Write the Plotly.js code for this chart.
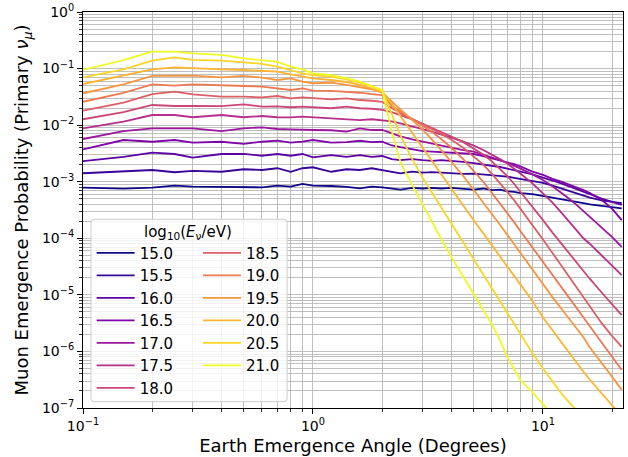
<!DOCTYPE html>
<html>
<head>
<meta charset="utf-8">
<script src="https://cdn.plot.ly/plotly-3.0.1.min.js"></script>
<style>html,body{margin:0;padding:0;background:#fff;}#chart{width:628px;height:457px;}</style>
</head>
<body>
<div id="chart"></div>
<script>
// Earth emergence angle (degrees)
const angles = [0.1, 0.15, 0.2, 0.25, 0.3, 0.4, 0.5, 0.6, 0.7, 0.8, 0.9, 1.0, 1.2, 1.4, 1.6, 1.8, 2.0,
  2.2, 2.4, 2.7, 3.0, 3.3, 3.6, 4.0, 4.5, 5.0, 5.5, 6.0, 6.5, 7.0, 7.5, 8.0, 9.0, 10, 11, 12, 13, 14, 15, 16, 18, 20, 22];

const energyLabels = ['15.0','15.5','16.0','16.5','17.0','17.5','18.0','18.5','19.0','19.5','20.0','20.5','21.0'];

const p150 = [7.83e-4,7.53e-4,7.83e-4,8.51e-4,8.17e-4,8.17e-4,8.15e-4,7.96e-4,8.51e-4,8.17e-4,9.12e-4,8.51e-4,8.40e-4,8.13e-4,7.64e-4,8.17e-4,7.96e-4,
  7.59e-4,7.24e-4,7.76e-4,7.59e-4,7.76e-4,7.59e-4,7.76e-4,7.41e-4,7.24e-4,7.59e-4,7.08e-4,7.24e-4,6.76e-4,6.61e-4,6.31e-4,6.03e-4,5.62e-4,5.25e-4,4.90e-4,4.68e-4,4.37e-4,4.17e-4,3.98e-4,3.72e-4,3.55e-4,3.39e-4];
const p155 = [1.41e-3,1.55e-3,1.61e-3,1.47e-3,1.55e-3,1.50e-3,1.66e-3,1.61e-3,1.73e-3,1.50e-3,1.73e-3,1.80e-3,1.50e-3,1.66e-3,1.61e-3,1.73e-3,1.61e-3,
  1.51e-3,1.41e-3,1.51e-3,1.45e-3,1.48e-3,1.45e-3,1.41e-3,1.38e-3,1.39e-3,1.35e-3,1.29e-3,1.26e-3,1.23e-3,1.17e-3,1.12e-3,1.05e-3,9.55e-4,8.51e-4,7.59e-4,6.76e-4,6.17e-4,5.62e-4,5.25e-4,4.68e-4,4.37e-4,4.17e-4];
const p160 = [2.32e-3,2.75e-3,3.26e-3,3.09e-3,2.66e-3,3.09e-3,3.10e-3,2.88e-3,3.09e-3,2.88e-3,3.09e-3,2.69e-3,2.95e-3,2.75e-3,2.95e-3,2.75e-3,2.85e-3,
  2.51e-3,2.40e-3,2.51e-3,2.40e-3,2.34e-3,2.40e-3,2.29e-3,2.24e-3,2.14e-3,2.04e-3,1.95e-3,1.82e-3,1.70e-3,1.58e-3,1.51e-3,1.35e-3,1.20e-3,1.05e-3,9.33e-4,8.32e-4,7.41e-4,6.61e-4,6.03e-4,5.01e-4,4.37e-4,3.89e-4];
const p165 = [3.74e-3,5.46e-3,5.09e-3,5.46e-3,4.90e-3,5.09e-3,4.65e-3,5.09e-3,5.31e-3,4.90e-3,5.09e-3,5.46e-3,4.90e-3,5.01e-3,5.30e-3,5.01e-3,5.09e-3,
  4.37e-3,4.07e-3,3.80e-3,3.47e-3,3.39e-3,3.31e-3,3.24e-3,3.16e-3,3.09e-3,2.82e-3,2.57e-3,2.40e-3,2.24e-3,2.04e-3,1.86e-3,1.51e-3,1.32e-3,1.12e-3,1.00e-3,8.91e-4,7.94e-4,7.08e-4,6.31e-4,4.79e-4,3.31e-4,2.09e-4];
const p170 = [5.69e-3,7.87e-3,8.79e-3,8.79e-3,8.75e-3,7.87e-3,8.79e-3,9.16e-3,8.55e-3,8.43e-3,8.43e-3,8.20e-3,8.13e-3,7.66e-3,8.79e-3,8.20e-3,8.20e-3,
  7.08e-3,6.31e-3,5.62e-3,5.13e-3,4.79e-3,4.37e-3,3.98e-3,3.63e-3,3.39e-3,3.02e-3,2.69e-3,2.40e-3,2.14e-3,1.91e-3,1.70e-3,1.35e-3,1.07e-3,8.32e-4,6.46e-4,5.01e-4,3.89e-4,3.02e-4,2.40e-4,1.55e-4,1.05e-4,7.08e-5];
const p175 = [8.79e-3,1.15e-2,1.51e-2,1.51e-2,1.38e-2,1.51e-2,1.38e-2,1.45e-2,1.38e-2,1.37e-2,1.41e-2,1.38e-2,1.32e-2,1.27e-2,1.23e-2,1.27e-2,1.20e-2,
  1.17e-2,1.07e-2,9.55e-3,8.51e-3,7.59e-3,6.92e-3,6.03e-3,5.13e-3,4.37e-3,3.63e-3,3.02e-3,2.51e-3,2.09e-3,1.70e-3,1.38e-3,9.33e-4,6.31e-4,4.27e-4,2.88e-4,2.00e-4,1.38e-4,1.00e-4,7.94e-5,5.01e-5,3.31e-5,2.24e-5];
const p180 = [1.27e-2,1.70e-2,2.27e-2,2.18e-2,2.18e-2,2.16e-2,2.33e-2,2.12e-2,2.14e-2,2.07e-2,2.12e-2,2.07e-2,1.99e-2,2.12e-2,1.99e-2,1.95e-2,1.86e-2,
  1.70e-2,1.51e-2,1.26e-2,1.05e-2,8.91e-3,7.59e-3,6.31e-3,5.01e-3,3.89e-3,3.02e-3,2.29e-3,1.70e-3,1.26e-3,9.12e-4,6.61e-4,3.63e-4,2.09e-4,1.26e-4,8.13e-5,5.37e-5,3.72e-5,2.63e-5,1.91e-5,1.10e-5,6.76e-6,4.37e-6];
const p185 = [1.80e-2,2.51e-2,3.55e-2,3.90e-2,3.51e-2,3.18e-2,3.18e-2,3.10e-2,3.27e-2,2.98e-2,3.10e-2,2.98e-2,2.86e-2,2.98e-2,2.78e-2,2.70e-2,2.59e-2,
  2.00e-2,1.62e-2,1.29e-2,1.05e-2,8.51e-3,7.08e-3,5.50e-3,3.98e-3,2.82e-3,2.00e-3,1.38e-3,9.55e-4,6.61e-4,4.68e-4,3.31e-4,1.74e-4,9.55e-5,5.50e-5,3.31e-5,2.09e-5,1.35e-5,8.91e-6,6.17e-6,3.16e-6,1.86e-6,1.20e-6];
const p190 = [2.59e-2,3.72e-2,5.27e-2,4.98e-2,5.27e-2,5.13e-2,4.92e-2,4.79e-2,4.48e-2,4.18e-2,4.48e-2,4.06e-2,4.02e-2,3.90e-2,3.74e-2,3.55e-2,3.41e-2,
  2.19e-2,1.74e-2,1.32e-2,1.00e-2,7.59e-3,5.75e-3,3.98e-3,2.51e-3,1.58e-3,1.00e-3,6.31e-4,4.17e-4,2.75e-4,1.91e-4,1.32e-4,6.92e-5,3.80e-5,2.24e-5,1.38e-5,8.91e-6,5.89e-6,3.98e-6,2.75e-6,1.45e-6,7.94e-7,4.68e-7];
const p195 = [3.66e-2,5.25e-2,7.40e-2,7.48e-2,7.48e-2,7.01e-2,7.40e-2,6.92e-2,6.28e-2,6.73e-2,5.86e-2,5.50e-2,5.62e-2,5.13e-2,4.67e-2,4.31e-2,3.74e-2,
  2.63e-2,1.91e-2,1.26e-2,8.32e-3,5.50e-3,3.72e-3,2.24e-3,1.26e-3,7.24e-4,4.37e-4,2.75e-4,1.74e-4,1.15e-4,7.76e-5,5.37e-5,2.75e-5,1.51e-5,9.12e-6,5.75e-6,3.80e-6,2.57e-6,1.78e-6,1.17e-6,6.31e-7,3.55e-7,2.09e-7];
const p200 = [5.33e-2,7.59e-2,9.70e-2,1.05e-1,1.01e-1,9.70e-2,9.44e-2,9.16e-2,8.81e-2,7.92e-2,7.18e-2,6.73e-2,6.28e-2,5.79e-2,5.13e-2,4.48e-2,3.90e-2,
  2.40e-2,1.45e-2,7.24e-3,3.80e-3,2.19e-3,1.32e-3,7.24e-4,3.80e-4,2.09e-4,1.23e-4,7.59e-5,4.79e-5,3.16e-5,2.14e-5,1.48e-5,7.76e-6,3.98e-6,2.34e-6,1.45e-6,9.33e-7,6.31e-7,4.37e-7,3.16e-7,1.78e-7,1.07e-7,7.08e-8];
const p205 = [7.01e-2,9.70e-2,1.38e-1,1.58e-1,1.42e-1,1.38e-1,1.29e-1,1.21e-1,1.08e-1,9.44e-2,8.24e-2,7.69e-2,7.18e-2,6.46e-2,5.62e-2,4.79e-2,4.06e-2,
  1.58e-2,6.61e-3,2.51e-3,1.17e-3,6.31e-4,3.63e-4,1.82e-4,8.51e-5,4.27e-5,2.29e-5,1.29e-5,7.59e-6,4.68e-6,2.95e-6,1.95e-6,9.33e-7,5.01e-7,2.95e-7,1.82e-7,1.26e-7,9.12e-8,6.76e-8,null,null,null,null];
const p210 = [9.44e-2,1.41e-1,1.99e-1,1.99e-1,1.86e-1,1.74e-1,1.52e-1,1.38e-1,1.31e-1,1.08e-1,9.70e-2,8.24e-2,7.69e-2,6.73e-2,5.86e-2,4.92e-2,4.18e-2,
  7.94e-3,2.24e-3,8.71e-4,3.89e-4,1.95e-4,1.00e-4,4.68e-5,2.14e-5,1.07e-5,5.62e-6,3.02e-6,1.58e-6,7.94e-7,4.90e-7,3.09e-7,1.91e-7,1.17e-7,7.59e-8,5.01e-8,null,null,null,null,null,null,null];

const seriesValues = [p150,p155,p160,p165,p170,p175,p180,p185,p190,p195,p200,p205,p210];
const lineColors = ['#0d0887','#380599','#5c01a4','#7e03a8','#9c179e','#b62f8c','#cc4778','#dd5f66','#ed7953','#f89540','#fdb42f','#fbd524','#f0f921'];

const xTickVals = [0.1, 1, 10];
const xTickText = ['10<sup>\u22121</sup>', '10<sup>0</sup>', '10<sup>1</sup>'];
const yTickVals = [1e-7, 1e-6, 1e-5, 1e-4, 1e-3, 1e-2, 1e-1, 1];
const yTickText = ['10<sup>\u22127</sup>','10<sup>\u22126</sup>','10<sup>\u22125</sup>','10<sup>\u22124</sup>','10<sup>\u22123</sup>','10<sup>\u22122</sup>','10<sup>\u22121</sup>','10<sup>0</sup>'];

function minorVals(decades) {
  const out = [];
  decades.forEach(d => { for (let k = 2; k <= 9; k++) out.push(k * d); });
  return out;
}
const xMinor = minorVals([0.1, 1, 10]);
const yMinor = minorVals([1e-7, 1e-6, 1e-5, 1e-4, 1e-3, 1e-2, 1e-1]);

const traces = seriesValues.map((vals, i) => ({
  x: angles, y: vals, type: 'scatter', mode: 'lines',
  name: energyLabels[i],
  line: {color: lineColors[i], width: 1.8},
  legend: i < 7 ? 'legend' : 'legend2',
  hoverinfo: 'skip'
}));

const gridStyle = {showgrid: true, gridcolor: '#b0b0b0', gridwidth: 0.8};
function axisBase() {
  return Object.assign({
    type: 'log', tickmode: 'array',
    ticks: 'outside', ticklen: 5, tickwidth: 1, tickcolor: 'black',
    showline: true, linecolor: 'black', linewidth: 1, mirror: true,
    zeroline: false, automargin: false,
    tickfont: {size: 14, color: 'black'}
  }, gridStyle);
}

const xaxis = Object.assign(axisBase(), {
  range: [-1, 1.348], tickvals: xTickVals, ticktext: xTickText,
  minor: Object.assign({tickmode: 'array', tickvals: xMinor, ticks: 'outside', ticklen: 3, tickwidth: 0.8, tickcolor: 'black'}, gridStyle),
  title: {text: 'Earth Emergence Angle (Degrees)', font: {size: 18, color: 'black'}, standoff: 6}
});
const yaxis = Object.assign(axisBase(), {
  range: [-7, 0], tickvals: yTickVals, ticktext: yTickText,
  minor: Object.assign({tickmode: 'array', tickvals: yMinor, ticks: 'outside', ticklen: 3, tickwidth: 0.8, tickcolor: 'black'}, gridStyle),
  title: {text: 'Muon Emergence Probability (Primary <i>\u03bd</i><sub><i>\u03bc</i></sub>)', font: {size: 18, color: 'black'}, standoff: 8}
});

// legend frame (rounded box) in paper coordinates
const bx0 = 0.0148, bx1 = 0.378, by0 = 0.016, by1 = 0.4765, rx = 0.006, ry = 0.008;
const boxPath = `M${bx0+rx},${by0} L${bx1-rx},${by0} Q${bx1},${by0} ${bx1},${by0+ry} L${bx1},${by1-ry} Q${bx1},${by1} ${bx1-rx},${by1} L${bx0+rx},${by1} Q${bx0},${by1} ${bx0},${by1-ry} L${bx0},${by0+ry} Q${bx0},${by0} ${bx0+rx},${by0} Z`;

const legendStyle = {xanchor: 'left', yanchor: 'top', bgcolor: 'rgba(0,0,0,0)', borderwidth: 0,
  font: {size: 15, color: 'black'}, tracegroupgap: 0, orientation: 'v', itemwidth: 38};

const layout = {
  width: 628, height: 457,
  margin: {l: 83, r: 5, t: 12, b: 49},
  paper_bgcolor: 'white', plot_bgcolor: 'white',
  font: {family: 'DejaVu Sans, sans-serif', size: 14, color: 'black'},
  showlegend: true,
  xaxis: xaxis, yaxis: yaxis,
  legend: Object.assign({x: 0.016, y: 0.433}, legendStyle),
  legend2: Object.assign({x: 0.213, y: 0.433}, legendStyle),
  shapes: [{type: 'path', xref: 'paper', yref: 'paper', path: boxPath,
    fillcolor: 'rgba(255,255,255,0.8)', line: {color: '#cccccc', width: 1}, layer: 'above'}],
  annotations: [{xref: 'paper', yref: 'paper', x: 0.194, y: 0.444, xanchor: 'center', yanchor: 'middle',
    text: 'log<sub>10</sub>(<i>E</i><sub>\u03bd</sub>/eV)', showarrow: false, font: {size: 15, color: 'black'}}]
};

Plotly.newPlot('chart', traces, layout, {staticPlot: true, displayModeBar: false});
</script>
</body>
</html>
